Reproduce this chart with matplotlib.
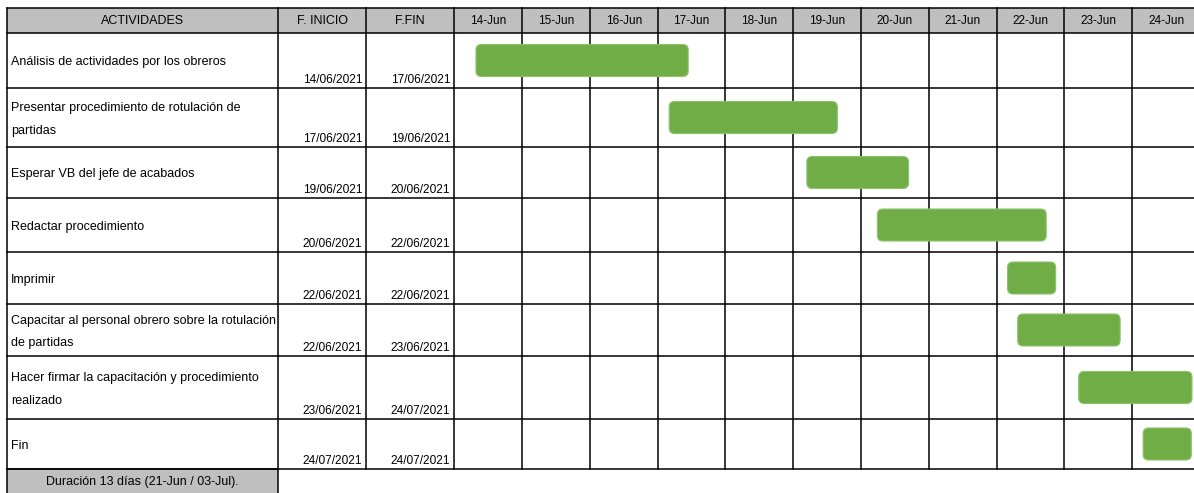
import matplotlib.pyplot as plt
from matplotlib.patches import FancyBboxPatch, Rectangle

plt.rcParams['font.family'] = ['Liberation Sans Narrow', 'Liberation Sans', 'DejaVu Sans']

# datos del gantt
actividades = [
    "Análisis de actividades por los obreros",
    "Presentar procedimiento de rotulación de\npartidas",
    "Esperar VB del jefe de acabados",
    "Redactar procedimiento",
    "Imprimir",
    "Capacitar al personal obrero sobre la rotulación\nde partidas",
    "Hacer firmar la capacitación y procedimiento\nrealizado",
    "Fin",
]
f_inicio = ["14/06/2021", "17/06/2021", "19/06/2021", "20/06/2021",
            "22/06/2021", "22/06/2021", "23/06/2021", "24/07/2021"]
f_fin = ["17/06/2021", "19/06/2021", "20/06/2021", "22/06/2021",
         "22/06/2021", "23/06/2021", "24/07/2021", "24/07/2021"]
dias = ["14-Jun", "15-Jun", "16-Jun", "17-Jun", "18-Jun", "19-Jun",
        "20-Jun", "21-Jun", "22-Jun", "23-Jun", "24-Jun"]
# inicio / fin de cada barra en dias desde el 14-Jun
barra_ini = [0.32, 3.17, 5.20, 6.24, 8.16, 8.31, 9.21, 10.16]
barra_fin = [3.45, 5.65, 6.70, 8.73, 8.87, 9.82, 10.88, 10.87]
duracion = "Duración 13 días (21-Jun / 03-Jul)."

# layout (x en dias, y en pixeles)
px_dia = 67.8
col_act = -6.59
col_ini = -2.60
col_fin = -1.30
filas = [8, 33, 88, 147, 198, 252, 304, 356, 419, 469, 493]
gris = "#BFBFBF"
verde = "#70AD47"
lw = 1.1

fig = plt.figure(figsize=(11.94, 4.93), dpi=100)
ax = fig.add_axes([0, 0, 1, 1])
ax.set_xlim(-6.70, 10.91)
ax.set_ylim(493, 0)
ax.axis("off")

x_der = 10.91

# cabecera
ax.add_patch(Rectangle((col_act, filas[0]), x_der - col_act, filas[1] - filas[0],
                       facecolor=gris, edgecolor="none"))
ax.text((col_act + col_ini) / 2, 21, "ACTIVIDADES", ha="center", va="center", fontsize=9)
ax.text((col_ini + col_fin) / 2, 21, "F. INICIO", ha="center", va="center", fontsize=9)
ax.text((col_fin + 0) / 2, 21, "F.FIN", ha="center", va="center", fontsize=9)
for i, d in enumerate(dias):
    ax.text(i + 0.5, 21, d, ha="center", va="center", fontsize=8.5)

# filas
for i, act in enumerate(actividades):
    y0, y1 = filas[i + 1], filas[i + 2]
    ax.text(col_act + 0.05, (y0 + y1) / 2 + 2, act, ha="left", va="center",
            fontsize=9, linespacing=2.2)
    ax.text(col_fin - 0.06, y1 - 2, f_inicio[i], ha="right", va="bottom", fontsize=8.6)
    ax.text(-0.06, y1 - 2, f_fin[i], ha="right", va="bottom", fontsize=8.6)
    # barra
    yc = (y0 + y1) / 2
    h = 32
    ax.add_patch(FancyBboxPatch((barra_ini[i], yc - h / 2), barra_fin[i] - barra_ini[i], h,
                                boxstyle="round,pad=0,rounding_size=0.08",
                                mutation_aspect=px_dia,
                                facecolor=verde, edgecolor="#8CC46A", linewidth=0.8,
                                zorder=3))

# lineas horizontales
for y in filas[:-1]:
    ax.plot([col_act, x_der], [y, y], color="black", lw=lw, zorder=2)
# lineas verticales
for x in [col_act, col_ini, col_fin] + list(range(len(dias))):
    ax.plot([x, x], [filas[0], filas[-2]], color="black", lw=lw, zorder=2)

# celda de duracion
ax.add_patch(Rectangle((col_act, filas[-2]), col_ini - col_act, filas[-1] - filas[-2] + 5,
                       facecolor=gris, edgecolor="black", linewidth=lw, zorder=1))
ax.text((col_act + col_ini) / 2, 482, duracion, ha="center", va="center", fontsize=9)

fig.savefig("out.png", dpi=100)
